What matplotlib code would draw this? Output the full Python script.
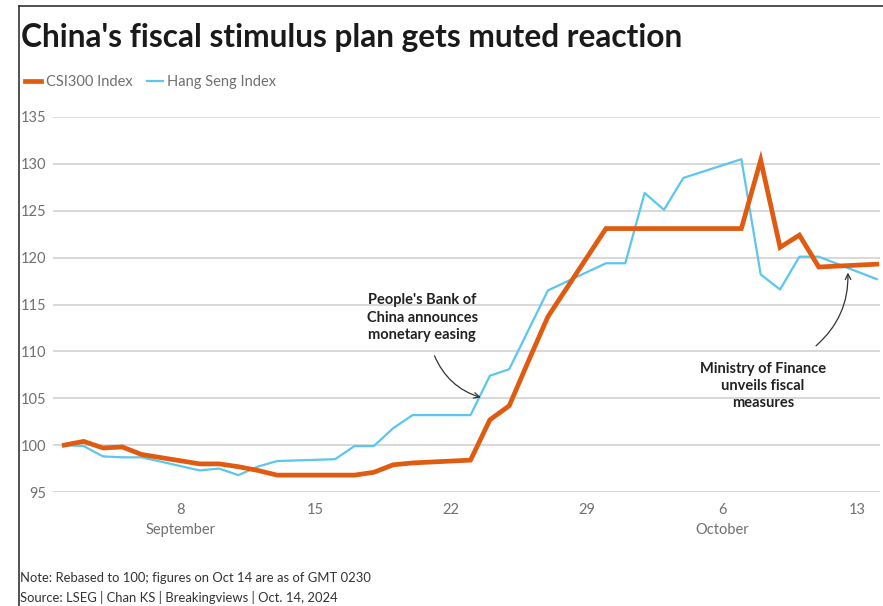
import matplotlib
matplotlib.use("Agg")
import matplotlib.pyplot as plt
from matplotlib.lines import Line2D
import pandas as pd

plt.rcParams['font.family'] = ['Lato', 'DejaVu Sans']

dates = ["2024-09-02", "2024-09-03", "2024-09-04", "2024-09-05", "2024-09-06",
         "2024-09-09", "2024-09-10", "2024-09-11", "2024-09-12", "2024-09-13",
         "2024-09-16", "2024-09-17", "2024-09-18", "2024-09-19", "2024-09-20",
         "2024-09-23", "2024-09-24", "2024-09-25", "2024-09-26", "2024-09-27",
         "2024-09-30", "2024-10-01", "2024-10-02", "2024-10-03", "2024-10-04",
         "2024-10-07", "2024-10-08", "2024-10-09", "2024-10-10", "2024-10-11",
         "2024-10-14"]

csi300 = [100.0, 100.4, 99.7, 99.8, 99.0,
          98.0, 98.0, 97.7, 97.3, 96.8,
          96.8, 96.8, 97.1, 97.9, 98.1,
          98.4, 102.7, 104.2, 109.0, 113.7,
          123.1, 123.1, 123.1, 123.1, 123.1,
          123.1, 130.4, 121.1, 122.4, 119.0,
          119.3]

hang_seng = [100.0, 99.9, 98.8, 98.7, 98.7,
             97.3, 97.5, 96.8, 97.7, 98.3,
             98.5, 99.9, 99.9, 101.8, 103.2,
             103.2, 107.4, 108.1, 112.3, 116.5,
             119.4, 119.4, 126.9, 125.1, 128.5,
             130.5, 118.2, 116.6, 120.1, 120.1,
             117.7]

tick_dates = ["2024-09-08", "2024-09-15", "2024-09-22", "2024-09-29", "2024-10-06", "2024-10-13"]
tick_labels = ["8\nSeptember", "15", "22", "29", "6\nOctober", "13"]

orange = "#e05a10"
blue = "#5bc6ee"
grey = "#707070"

x = pd.to_datetime(dates)

fig = plt.figure(figsize=(8.83, 6.06), dpi=100)
ax = fig.add_axes([53/883, 1-492/606, (880-53)/883, (492-117)/606])

ax.plot(x, hang_seng, color=blue, lw=1.6, zorder=3)
ax.plot(x, csi300, color=orange, lw=3.4, zorder=4, solid_joinstyle='miter')

ax.set_ylim(95, 135)
ax.set_yticks(range(95, 136, 5))
ax.set_xlim(pd.Timestamp("2024-09-01 10:00"), pd.Timestamp("2024-10-14 04:00"))
ax.set_xticks(pd.to_datetime(tick_dates))
ax.set_xticklabels(tick_labels, linespacing=1.5)
ax.grid(axis='y', color='#d6d6d6', lw=1.3)
ax.set_axisbelow(True)
for s in ax.spines.values():
    s.set_visible(False)
ax.tick_params(length=0, labelsize=10.5, labelcolor=grey, pad=8)
ax.tick_params(axis='y', pad=5)

# annotations
ax.text(pd.Timestamp("2024-09-20 12:00"), 113.6,
        "People's Bank of\nChina announces\nmonetary easing",
        ha='center', va='center', fontsize=10.5, fontweight='bold', color='#222222', linespacing=1.3)
ax.annotate("", xy=(pd.Timestamp("2024-09-23 16:00"), 105.0),
            xytext=(pd.Timestamp("2024-09-21 02:00"), 109.8),
            arrowprops=dict(arrowstyle='->', color='#333333', lw=0.9,
                            connectionstyle='arc3,rad=0.25'))

ax.text(pd.Timestamp("2024-10-08 03:00"), 106.3,
        "Ministry of Finance\nunveils fiscal\nmeasures",
        ha='center', va='center', fontsize=10.5, fontweight='bold', color='#222222', linespacing=1.3)
ax.annotate("", xy=(pd.Timestamp("2024-10-12 12:00"), 118.7),
            xytext=(pd.Timestamp("2024-10-10 18:00"), 110.4),
            arrowprops=dict(arrowstyle='->', color='#333333', lw=0.9,
                            connectionstyle='arc3,rad=0.25'))

# title, legend, notes
fig.text(21/883, 1-38/606, "China's fiscal stimulus plan gets muted reaction",
         fontsize=22.8, fontweight='bold', color='#1a1a1a', va='center', ha='left')

handles = [Line2D([], [], color=orange, lw=3.4), Line2D([], [], color=blue, lw=1.6)]
fig.legend(handles, ["CSI300 Index", "Hang Seng Index"], loc='center left',
           bbox_to_anchor=(12/883, 1-82/606), ncol=2, frameon=False,
           handlelength=1.1, handletextpad=0.3, columnspacing=1.0,
           prop={'size': 10.5}, labelcolor=grey)

fig.text(20/883, 1-578/606, "Note: Rebased to 100; figures on Oct 14 are as of GMT 0230",
         fontsize=9.4, color='#333333', va='center')
fig.text(20/883, 1-598/606, "Source: LSEG | Chan KS | Breakingviews | Oct. 14, 2024",
         fontsize=9.4, color='#333333', va='center')

# frame lines
fig.add_artist(Line2D([19/883, 19/883], [0, 1-6/606], color='#333333', lw=1.2, transform=fig.transFigure))
fig.add_artist(Line2D([19/883, 1], [1-6/606, 1-6/606], color='#333333', lw=1.2, transform=fig.transFigure))

fig.savefig("out.png", dpi=100, facecolor='white')
